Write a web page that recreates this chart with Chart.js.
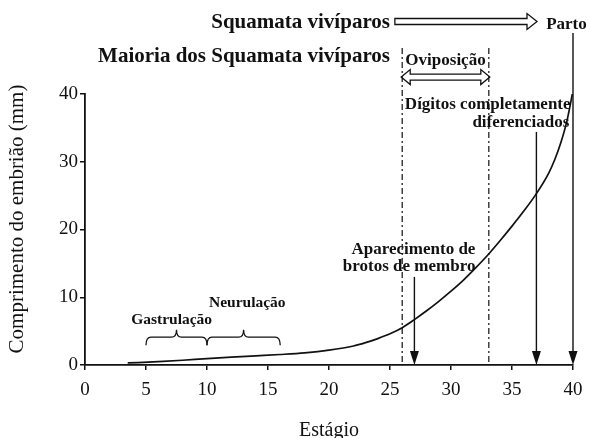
<!DOCTYPE html>
<html>
<head>
<meta charset="utf-8">
<script src="https://cdn.jsdelivr.net/npm/chart.js@4/dist/chart.umd.min.js"></script>
<style>
  html, body { margin: 0; background: #fff; }
</style>
</head>
<body>
<canvas id="chart" width="589" height="438"></canvas>
<script>
// embryo length (mm) by developmental stage
const stages  = [3.5, 6, 8, 10, 12, 14, 16, 18, 20, 22, 23, 24, 25, 26, 27, 28, 29, 30, 31, 32, 33, 34, 35, 36, 37, 38, 38.5, 39, 39.5, 40];
const lengths = [0.3, 0.5, 0.7, 0.95, 1.15, 1.35, 1.55, 1.8, 2.2, 2.8, 3.3, 3.9, 4.6, 5.5, 6.7, 8.0, 9.4, 10.9, 12.5, 14.3, 16.2, 18.3, 20.5, 22.8, 25.3, 28.3, 30.3, 32.8, 36, 40.5];

const xTicks = [0, 5, 10, 15, 20, 25, 30, 35, 40];
const yTicks = [0, 10, 20, 30, 40];

// events on the stage axis
const limbBudStage = 27;
const digitsStage = 37;
const birthStage = 40;
const oviposition = [26, 33.1];
const gastrulation = [5, 10];
const neurulation = [10, 16];

const INK = "#111";
const SERIF = '"Liberation Serif", "Times New Roman", serif';

function arrowDown(ctx, x, yTop, yBot) {
  ctx.beginPath();
  ctx.moveTo(x, yTop);
  ctx.lineTo(x, yBot - 10);
  ctx.stroke();
  ctx.beginPath();
  ctx.moveTo(x, yBot);
  ctx.lineTo(x - 4.5, yBot - 14);
  ctx.lineTo(x + 4.5, yBot - 14);
  ctx.closePath();
  ctx.fill();
}

function brace(ctx, xa, xb, xm, yLine, yEnd, yTip) {
  const r = 5;
  ctx.beginPath();
  ctx.moveTo(xa, yEnd);
  ctx.quadraticCurveTo(xa, yLine, xa + r, yLine);
  ctx.lineTo(xm - r, yLine);
  ctx.quadraticCurveTo(xm, yLine, xm, yTip);
  ctx.quadraticCurveTo(xm, yLine, xm + r, yLine);
  ctx.lineTo(xb - r, yLine);
  ctx.quadraticCurveTo(xb, yLine, xb, yEnd);
  ctx.stroke();
}

const annotations = {
  id: "annotations",
  afterDraw(chart) {
    const { ctx, scales: { x, y } } = chart;
    const X = (v) => x.getPixelForValue(v);
    const Y = (v) => y.getPixelForValue(v);
    ctx.save();
    ctx.strokeStyle = INK;
    ctx.fillStyle = INK;
    ctx.textBaseline = "middle";

    // axis titles
    ctx.font = "21px " + SERIF;
    ctx.textAlign = "center";
    ctx.save();
    ctx.translate(17, 219);
    ctx.rotate(-Math.PI / 2);
    ctx.fillText("Comprimento do embrião (mm)", 0, 0);
    ctx.restore();
    ctx.font = "20px " + SERIF;
    ctx.fillText("Estágio", (x.left + x.right) / 2, 431);

    // top labels
    ctx.font = "bold 21px " + SERIF;
    ctx.textAlign = "right";
    ctx.fillText("Squamata vivíparos", X(25), Y(50.5));
    ctx.fillText("Maioria dos Squamata vivíparos", X(25), Y(45.5));

    // hollow arrow to "Parto"
    ctx.lineWidth = 1.3;
    let ya = Y(50.7), x0 = X(25.4), x1 = X(37.05);
    ctx.beginPath();
    ctx.moveTo(x0, ya - 3);
    ctx.lineTo(x1 - 10, ya - 3);
    ctx.lineTo(x1 - 10, ya - 8);
    ctx.lineTo(x1, ya);
    ctx.lineTo(x1 - 10, ya + 8);
    ctx.lineTo(x1 - 10, ya + 3);
    ctx.lineTo(x0, ya + 3);
    ctx.closePath();
    ctx.stroke();

    ctx.font = "bold 17px " + SERIF;
    ctx.textAlign = "left";
    ctx.fillText("Parto", X(37.8), Y(50.2));

    // oviposition window
    ctx.textAlign = "center";
    ctx.fillText("Oviposição", (X(oviposition[0]) + X(oviposition[1])) / 2, Y(45));
    ctx.lineWidth = 1.2;
    ctx.setLineDash([6, 3, 2, 3]);
    oviposition.forEach((s) => {
      ctx.beginPath();
      ctx.moveTo(X(s), Y(46.8));
      ctx.lineTo(X(s), Y(0));
      ctx.stroke();
    });
    ctx.setLineDash([]);

    // double hollow arrow
    ctx.lineWidth = 1.3;
    ya = Y(42.5); x0 = X(oviposition[0]) - 1; x1 = X(oviposition[1]) + 1;
    ctx.beginPath();
    ctx.moveTo(x0, ya);
    ctx.lineTo(x0 + 9, ya - 7.5);
    ctx.lineTo(x0 + 9, ya - 3);
    ctx.lineTo(x1 - 9, ya - 3);
    ctx.lineTo(x1 - 9, ya - 7.5);
    ctx.lineTo(x1, ya);
    ctx.lineTo(x1 - 9, ya + 7.5);
    ctx.lineTo(x1 - 9, ya + 3);
    ctx.lineTo(x0 + 9, ya + 3);
    ctx.lineTo(x0 + 9, ya + 7.5);
    ctx.closePath();
    ctx.stroke();

    // event arrows
    ctx.lineWidth = 1.4;
    arrowDown(ctx, X(birthStage), Y(49), Y(0));
    arrowDown(ctx, X(digitsStage), Y(34.4), Y(0));
    arrowDown(ctx, X(limbBudStage), Y(13), Y(0));

    ctx.font = "bold 17px " + SERIF;
    ctx.textAlign = "right";
    ctx.fillText("Dígitos completamente", X(39.8), Y(38.5));
    ctx.fillText("diferenciados", X(39.7), Y(35.8));
    ctx.fillText("Aparecimento de", X(32), Y(17));
    ctx.fillText("brotos de membro", X(32), Y(14.5));

    // gastrulation / neurulation braces
    ctx.lineWidth = 1.3;
    brace(ctx, X(gastrulation[0]), X(gastrulation[1]), X(7.5), Y(4.1), Y(2.9), Y(5.2));
    brace(ctx, X(neurulation[0]), X(neurulation[1]), X(13), Y(4.1), Y(2.9), Y(5.2));
    ctx.font = "bold 15.5px " + SERIF;
    ctx.textAlign = "center";
    ctx.fillText("Gastrulação", X(7.1), Y(6.6));
    ctx.fillText("Neurulação", X(13.3), Y(9.15));

    ctx.restore();
  }
};

new Chart(document.getElementById("chart"), {
  type: "line",
  data: {
    datasets: [{
      data: stages.map((s, i) => ({ x: s, y: lengths[i] })),
      borderColor: INK,
      borderWidth: 1.7,
      pointRadius: 0,
      cubicInterpolationMode: "monotone",
      fill: false
    }]
  },
  options: {
    responsive: false,
    animation: false,
    layout: { padding: { left: 0, top: 94, right: 16, bottom: 0 } },
    plugins: { legend: { display: false }, tooltip: { enabled: false } },
    scales: {
      x: {
        type: "linear",
        min: 0,
        max: 40,
        afterBuildTicks: (s) => { s.ticks = xTicks.map((v) => ({ value: v })); },
        afterFit: (s) => { s.height = 73; s.paddingLeft = 10; s.paddingRight = 10; },
        border: { color: INK, width: 1.8 },
        grid: { drawOnChartArea: false, drawTicks: true, tickLength: 5, color: INK, lineWidth: 1.5 },
        ticks: { color: INK, padding: 9, maxRotation: 0, font: { family: SERIF, size: 19 } }
      },
      y: {
        min: 0,
        max: 40,
        afterBuildTicks: (s) => { s.ticks = yTicks.map((v) => ({ value: v })); },
        afterFit: (s) => { s.width = 85; },
        border: { color: INK, width: 1.8 },
        grid: { drawOnChartArea: false, drawTicks: true, tickLength: 5, color: INK, lineWidth: 1.5 },
        ticks: { color: INK, padding: 2, font: { family: SERIF, size: 19 } }
      }
    }
  },
  plugins: [annotations]
});
</script>
</body>
</html>
